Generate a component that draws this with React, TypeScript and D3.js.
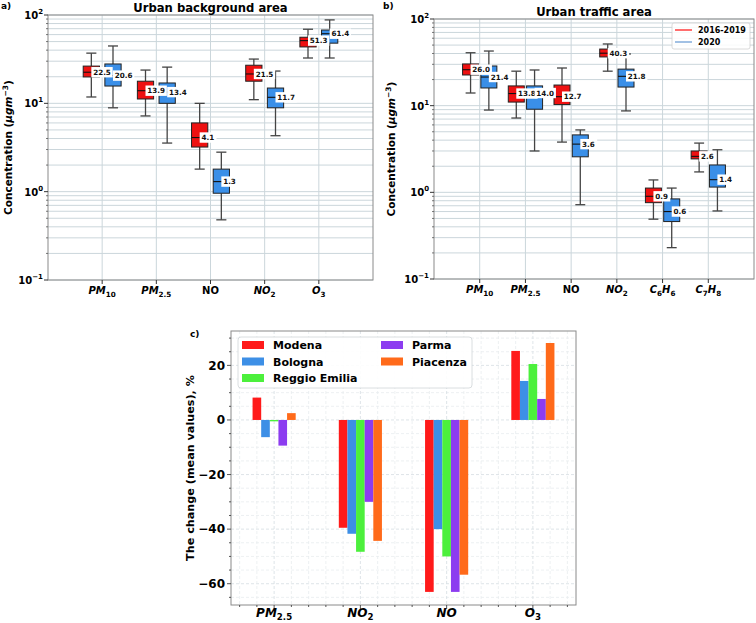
import React from "react";
import * as d3 from "d3";

// ---------- DATA ----------
// stats: [whiskerLow, q1, median, q3, whiskerHigh]
const catsA = ["PM10", "PM2.5", "NO", "NO2", "O3"];
const bgOld = [
  [11.8, 19.9, 22.5, 26.4, 37],
  [7.2, 11.2, 13.9, 17.8, 23.8],
  [1.8, 3.2, 4.1, 6.0, 10],
  [11, 17.8, 21.5, 27, 31.7],
  [32.6, 43.5, 51.3, 56, 69],
];
const bgNew = [
  [8.9, 15.7, 20.6, 27.9, 44.6],
  [3.55, 10, 13.4, 17, 25.7],
  [0.48, 0.96, 1.3, 1.8, 2.8],
  [4.3, 8.9, 11.7, 14.9, 23.2],
  [32.6, 48, 61.4, 67.6, 88],
];
const catsB = ["PM10", "PM2.5", "NO", "NO2", "C6H6", "C7H8"];
const trOld = [
  [14, 22.6, 26.0, 30.3, 40.8],
  [7.2, 11, 13.8, 16.9, 25],
  [3.8, 10.3, 12.7, 17.3, 27.2],
  [25, 36.5, 40.3, 45, 51.5],
  [0.49, 0.76, 0.9, 1.12, 1.39],
  [1.72, 2.43, 2.6, 3.0, 3.7],
];
const trNew = [
  [8.9, 16, 21.4, 28.7, 42.7],
  [3.0, 9.1, 14.0, 16.9, 25.8],
  [0.72, 2.57, 3.6, 4.6, 5.25],
  [8.7, 16.4, 21.8, 26.4, 39.5],
  [0.23, 0.46, 0.6, 0.84, 1.12],
  [0.61, 1.15, 1.4, 2.07, 3.1],
];
const periodLabels = ["2016-2019", "2020"];

const catsC = ["PM2.5", "NO2", "NO", "O3"];
const cities = ["Modena", "Bologna", "Reggio Emilia", "Parma", "Piacenza"];
const modena = [8.2, -39.5, -63, 25.3];
const bologna = [-6.3, -41.7, -40, 14.3];
const reggio = [-0.5, -48.3, -50, 20.5];
const parma = [-9.4, -30, -63, 7.7];
const piacenza = [2.5, -44.3, -56.7, 28.2];
const seriesC = [modena, bologna, reggio, parma, piacenza];
const yTicksC = [20, 0, -20, -40, -60];

// ---------- STYLE ----------
const FONT = "DejaVu Sans, sans-serif";
const RED = "#ee1111";
const BLUE = "#3a8fe8";
const cityColors = ["#ff1a1a", "#3d8fe6", "#4cf03c", "#8c3cf0", "#ff6a1a"];
const GRID = "#cbd6db";
const FRAME = "#8a8a8a";

function CatLabel({ name, x, y, size, italicNO = false }: any) {
  const sub = (s: string) => (
    <tspan fontSize={size * 0.72} dy={size * 0.28} fontStyle="normal">
      {s}
    </tspan>
  );
  if (name === "PM10" || name === "PM2.5") {
    return (
      <text x={x} y={y} fontSize={size} fontWeight="bold" textAnchor="middle" fontFamily={FONT}>
        <tspan fontStyle="italic">PM</tspan>
        {sub(name.slice(2))}
      </text>
    );
  }
  if (name === "NO") {
    return (
      <text x={x} y={y} fontSize={size} fontWeight="bold" textAnchor="middle" fontFamily={FONT} fontStyle={italicNO ? "italic" : "normal"}>
        NO
      </text>
    );
  }
  if (name === "NO2" || name === "O3") {
    return (
      <text x={x} y={y} fontSize={size} fontWeight="bold" textAnchor="middle" fontFamily={FONT}>
        <tspan fontStyle="italic">{name.slice(0, -1)}</tspan>
        {sub(name.slice(-1))}
      </text>
    );
  }
  return (
    <text x={x} y={y} fontSize={size} fontWeight="bold" textAnchor="middle" fontFamily={FONT}>
      <tspan fontStyle="italic">C</tspan>
      <tspan fontSize={size * 0.72} dy={size * 0.28}>{name[1]}</tspan>
      <tspan fontStyle="italic" dy={-size * 0.28}>H</tspan>
      <tspan fontSize={size * 0.72} dy={size * 0.28}>{name[3]}</tspan>
    </text>
  );
}

function BoxPanel({ cats, oldS, newS, x0, x1, y0, y1, boxW, title, tag, tagX, titleY, ylabelX, legend }: any) {
  const x = d3.scaleLinear().domain([0, cats.length + 1]).range([x0, x1]);
  const y = d3.scaleLog().domain([0.1, 100]).range([y1, y0]);
  const minorVals: number[] = [];
  for (let e = -1; e < 2; e++) for (let m = 2; m <= 9; m++) minorVals.push(m * Math.pow(10, e));
  const majors = [0.1, 1, 10, 100];
  const exps = ["\u22121", "0", "1", "2"];
  const wpx = x(boxW) - x(0);
  const off = x(0.2) - x(0);

  const drawBox = (s: number[], cx: number, color: string, key: string) => {
    const capW = wpx * 0.62;
    return (
      <g key={key}>
        <line x1={cx} x2={cx} y1={y(s[0])} y2={y(s[1])} stroke="#444" strokeWidth={1.3} />
        <line x1={cx} x2={cx} y1={y(s[3])} y2={y(s[4])} stroke="#444" strokeWidth={1.3} />
        <line x1={cx - capW / 2} x2={cx + capW / 2} y1={y(s[0])} y2={y(s[0])} stroke="#444" strokeWidth={1.3} />
        <line x1={cx - capW / 2} x2={cx + capW / 2} y1={y(s[4])} y2={y(s[4])} stroke="#444" strokeWidth={1.3} />
        <rect x={cx - wpx / 2} y={y(s[3])} width={wpx} height={y(s[1]) - y(s[3])} fill={color} stroke="#222" strokeWidth={1} />
        <line x1={cx - wpx / 2} x2={cx + wpx / 2} y1={y(s[2])} y2={y(s[2])} stroke="#111" strokeWidth={1.1} />
      </g>
    );
  };
  const drawLabel = (s: number[], cx: number, key: string) => {
    const txt = s[2].toFixed(1);
    const fs = 7.2;
    const tw = txt.length * fs * 0.62;
    const ly = y(s[2]);
    return (
      <g key={key}>
        <rect x={cx} y={ly - 5.2} width={tw + 3.5} height={10.4} fill="#fff" />
        <text x={cx + 1.8} y={ly + 2.6} fontSize={fs} fontWeight="bold" fontFamily={FONT} fill="#111">
          {txt}
        </text>
      </g>
    );
  };

  return (
    <g>
      {minorVals.map((v, i) => (
        <line key={"mg" + i} x1={x0} x2={x1} y1={y(v)} y2={y(v)} stroke={GRID} strokeWidth={1} />
      ))}
      {majors.map((v, i) => (
        <line key={"Mg" + i} x1={x0} x2={x1} y1={y(v)} y2={y(v)} stroke={GRID} strokeWidth={1} />
      ))}
      {cats.map((c: string, i: number) => (
        <line key={"vg" + i} x1={x(i + 1)} x2={x(i + 1)} y1={y0} y2={y1} stroke={GRID} strokeWidth={1} />
      ))}
      {cats.map((c: string, i: number) => drawBox(oldS[i], x(i + 1) - off, RED, "bo" + i))}
      {cats.map((c: string, i: number) => drawBox(newS[i], x(i + 1) + off, BLUE, "bn" + i))}
      {cats.map((c: string, i: number) => drawLabel(oldS[i], x(i + 1) - off, "lo" + i))}
      {cats.map((c: string, i: number) => drawLabel(newS[i], x(i + 1) + off, "ln" + i))}
      <rect x={x0} y={y0} width={x1 - x0} height={y1 - y0} fill="none" stroke={FRAME} strokeWidth={1} />
      {majors.map((v, i) => (
        <g key={"yt" + i}>
          <line x1={x0 - 4} x2={x0} y1={y(v)} y2={y(v)} stroke="#333" strokeWidth={1} />
          <text x={x0 - 5} y={y(v) + 4} fontSize={10} fontWeight="bold" textAnchor="end" fontFamily={FONT}>
            <tspan>10</tspan>
            <tspan fontSize={7} dy={-5}>{exps[i]}</tspan>
          </text>
        </g>
      ))}
      {minorVals.map((v, i) => (
        <line key={"ytm" + i} x1={x0 - 2} x2={x0} y1={y(v)} y2={y(v)} stroke="#555" strokeWidth={0.8} />
      ))}
      {cats.map((c: string, i: number) => (
        <g key={"xt" + i}>
          <line x1={x(i + 1)} x2={x(i + 1)} y1={y1} y2={y1 + 4} stroke="#333" strokeWidth={1} />
          <CatLabel name={c} x={x(i + 1)} y={y1 + 14} size={10} />
        </g>
      ))}
      <text x={(x0 + x1) / 2} y={titleY} fontSize={11.6} fontWeight="bold" textAnchor="middle" fontFamily={FONT}>
        {title}
      </text>
      <text x={tagX} y={9} fontSize={9} fontWeight="bold" fontFamily={FONT}>
        {tag}
      </text>
      <text
        transform={`translate(${ylabelX},${(y0 + y1) / 2}) rotate(-90)`}
        fontSize={10.5}
        fontWeight="bold"
        textAnchor="middle"
        fontFamily={FONT}
      >
        Concentration (<tspan fontStyle="italic">μgm</tspan>
        <tspan fontSize={7.5} dy={-4}>{"\u22123"}</tspan>
        <tspan dy={4}>)</tspan>
      </text>
      {legend && (
        <g>
          <rect x={672} y={23} width={78} height={26} rx={2} fill="#fff" fillOpacity={0.85} stroke="#d0d0d0" strokeWidth={0.8} />
          <line x1={675} x2={692} y1={30} y2={30} stroke="#ff3030" strokeWidth={1.4} />
          <line x1={675} x2={692} y1={42} y2={42} stroke="#7aa6d8" strokeWidth={1.4} />
          <text x={698} y={33} fontSize={8} fontWeight="bold" fontFamily={FONT}>
            {periodLabels[0]}
          </text>
          <text x={698} y={45} fontSize={8} fontWeight="bold" fontFamily={FONT}>
            {periodLabels[1]}
          </text>
        </g>
      )}
    </g>
  );
}

function BarPanel() {
  const x0 = 231, x1 = 576, y0 = 331, y1 = 605;
  const x = d3.scaleLinear().domain([-0.5, 3.5]).range([x0, x1]);
  const y = d3.scaleLinear().domain([-67.8, 32.6]).range([y1, y0]);
  const minorX = d3.range(-0.4, 3.45, 0.2).map((v) => Math.round(v * 10) / 10);
  const minorY = d3.range(-65, 31, 5);
  const bw = 0.1;
  return (
    <g>
      {minorY.map((v, i) => (
        <line key={"gy" + i} x1={x0} x2={x1} y1={y(v)} y2={y(v)} stroke={v % 20 === 0 ? "#d6dde2" : "#e8ecef"} strokeWidth={0.8} strokeDasharray="3,2" />
      ))}
      {minorX.map((v, i) => (
        <line key={"gx" + i} x1={x(v)} x2={x(v)} y1={y0} y2={y1} stroke={Number.isInteger(v) ? "#d6dde2" : "#e8ecef"} strokeWidth={0.8} strokeDasharray="3,2" />
      ))}
      {seriesC.map((s, j) =>
        s.map((v, i) => {
          const cx = i + (j - 2) * bw;
          return (
            <rect
              key={"b" + j + "-" + i}
              x={x(cx - bw / 2)}
              y={Math.min(y(v), y(0))}
              width={x(bw) - x(0)}
              height={Math.abs(y(v) - y(0))}
              fill={cityColors[j]}
            />
          );
        })
      )}
      <rect x={x0} y={y0} width={x1 - x0} height={y1 - y0} fill="none" stroke={FRAME} strokeWidth={1} />
      {minorX.map((v, i) => (
        <line key={"tx" + i} x1={x(v)} x2={x(v)} y1={y1} y2={y1 + (Number.isInteger(v) ? 4 : 2)} stroke="#444" strokeWidth={0.9} />
      ))}
      {minorY.map((v, i) => (
        <line key={"ty" + i} x1={x0 - (v % 20 === 0 ? 4 : 2)} x2={x0} y1={y(v)} y2={y(v)} stroke="#444" strokeWidth={0.9} />
      ))}
      {yTicksC.map((v, i) => (
        <text key={"yl" + i} x={x0 - 6} y={y(v) + 4.2} fontSize={12} fontWeight="bold" textAnchor="end" fontFamily={FONT}>
          {v < 0 ? "\u2212" + Math.abs(v) : String(v)}
        </text>
      ))}
      {catsC.map((c, i) => (
        <CatLabel key={"xl" + i} name={c} x={x(i)} y={617} size={12} italicNO={true} />
      ))}
      <text
        transform={`translate(${194},${(y0 + y1) / 2}) rotate(-90)`}
        fontSize={11.2}
        fontWeight="bold"
        textAnchor="middle"
        fontFamily={FONT}
      >
        The change (mean values), %
      </text>
      <text x={190} y={337} fontSize={9} fontWeight="bold" fontFamily={FONT}>
        c)
      </text>
      <rect x={238} y={337} width={234} height={51} rx={3} fill="#fff" fillOpacity={0.9} stroke="#d0d5d8" strokeWidth={0.8} />
      {cities.map((c, j) => {
        const col = j < 3 ? 0 : 1;
        const row = j < 3 ? j : j - 3;
        const lx = col === 0 ? 242 : 381;
        const ly = 345 + row * 16.5;
        return (
          <g key={"lg" + j}>
            <rect x={lx} y={ly - 4} width={22} height={8} fill={cityColors[j]} />
            <text x={lx + 31} y={ly + 4} fontSize={11} fontWeight="bold" fontFamily={FONT}>
              {c}
            </text>
          </g>
        );
      })}
    </g>
  );
}

export default function App() {
  return (
    <svg width={756} height={623} style={{ position: "absolute", left: 0, top: 0, background: "#fff" }}>
      <rect x={0} y={0} width={756} height={623} fill="#fff" />
      <BoxPanel
        cats={catsA}
        oldS={bgOld}
        newS={bgNew}
        x0={48}
        x1={373}
        y0={15}
        y1={280}
        boxW={0.3}
        title="Urban background area"
        tag="a)"
        tagX={1}
        titleY={12}
        ylabelX={12}
        legend={false}
      />
      <BoxPanel
        cats={catsB}
        oldS={trOld}
        newS={trNew}
        x0={434}
        x1={754}
        y0={19}
        y1={279}
        boxW={0.35}
        title="Urban traffic area"
        tag="b)"
        tagX={383}
        titleY={16}
        ylabelX={395}
        legend={true}
      />
      <BarPanel />
    </svg>
  );
}
